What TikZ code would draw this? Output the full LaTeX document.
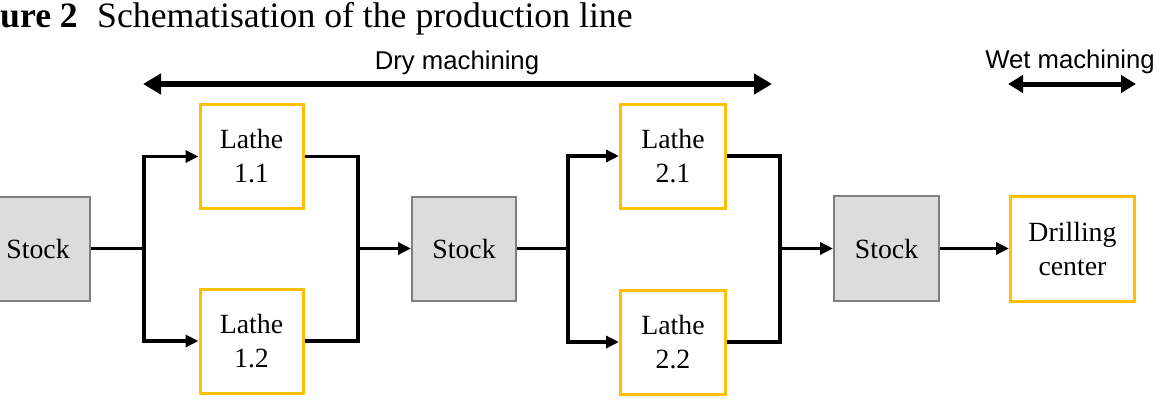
\documentclass[tikz,border=0pt]{standalone}
\usepackage{fontspec}
\setmainfont{Liberation Serif}
\setsansfont{Liberation Sans}
\usetikzlibrary{arrows.meta}
\definecolor{gold}{HTML}{FFC000}
\definecolor{stockfill}{HTML}{DCDCDC}
\definecolor{stockline}{HTML}{7F7F7F}
\begin{document}
\begin{tikzpicture}[x=1pt,y=-1pt,
  machine/.style={draw=gold, line width=3pt, fill=white, minimum width=103pt, minimum height=104pt, inner sep=0pt, align=center, font=\fontsize{27.8}{34}\selectfont},
  stockbox/.style={draw=stockline, line width=2pt, fill=stockfill, minimum width=104pt, minimum height=104pt, inner sep=0pt, align=center, font=\fontsize{27.8}{34}\selectfont},
  conn/.style={line width=3.3pt, black},
  arr/.style={conn, -{Triangle[length=13pt,width=12pt]}},
  span/.style={line width=6pt, black, {Triangle[length=18pt,width=20pt]}-{Triangle[length=18pt,width=20pt]}},
  spanlabel/.style={font=\sffamily\fontsize{25.7}{30}\selectfont, anchor=base, inner sep=0pt}
]
\useasboundingbox (0,0) rectangle (1157,408);
\clip (0,0) rectangle (1157,408);

% title
\node[anchor=base west, inner sep=0pt, font=\bfseries\fontsize{35.7}{40}\selectfont] (t1) at (0,27) {ure 2};
\node[anchor=base west, inner sep=0pt, font=\fontsize{35.7}{40}\selectfont] (t2) at (97,27) {Schematisation of the production line};

% span arrows
\coordinate (d1) at (143,84);
\coordinate (d2) at (772,84);
\draw[span] (d1) -- (d2);
\node[spanlabel] (dl) at (457,69) {Dry machining};
\coordinate (w1) at (1008,84);
\coordinate (w2) at (1136,84);
\draw[span, line width=5pt, {Triangle[length=15pt,width=17pt]}-{Triangle[length=15pt,width=17pt]}] (w1) -- (w2);
\node[spanlabel] (wl) at (1070,68) {Wet machining};

% nodes
\node[stockbox] (s1) at (38,248.5) {Stock};
\node[machine] (l11) at (251.5,156.5) {Lathe\\1.1};
\node[machine] (l12) at (251.5,341) {Lathe\\1.2};
\node[stockbox] (s2) at (464,248.5) {Stock};
\node[machine, minimum width=105pt] (l21) at (673,156) {Lathe\\2.1};
\node[machine, minimum width=105pt] (l22) at (673,342) {Lathe\\2.2};
\node[stockbox, minimum width=105pt, minimum height=105pt] (s3) at (886.5,248.5) {Stock};
\node[machine, minimum width=124pt, minimum height=105pt] (dc) at (1072.5,248.5) {Drilling\\center};

% connectors
\coordinate (j1) at (144,248.5);
\coordinate (m1) at (358,248.5);
\coordinate (j2) at (568,248.5);
\coordinate (m2) at (780,248.5);
\draw[conn] (s1.east) -- (j1);
\draw[arr] (j1) |- (l11.west);
\draw[arr] (j1) |- (l12.west);
\draw[conn] (l11.east) -| (m1);
\draw[conn] (l12.east) -| (m1);
\draw[arr] (m1) -- (s2.west);
\draw[conn] (s2.east) -- (j2);
\draw[arr] (j2) |- (l21.west);
\draw[arr] (j2) |- (l22.west);
\draw[conn] (l21.east) -| (m2);
\draw[conn] (l22.east) -| (m2);
\draw[arr] (m2) -- (s3.west);
\draw[arr] (s3.east) -- (dc.west);
\end{tikzpicture}
\end{document}
